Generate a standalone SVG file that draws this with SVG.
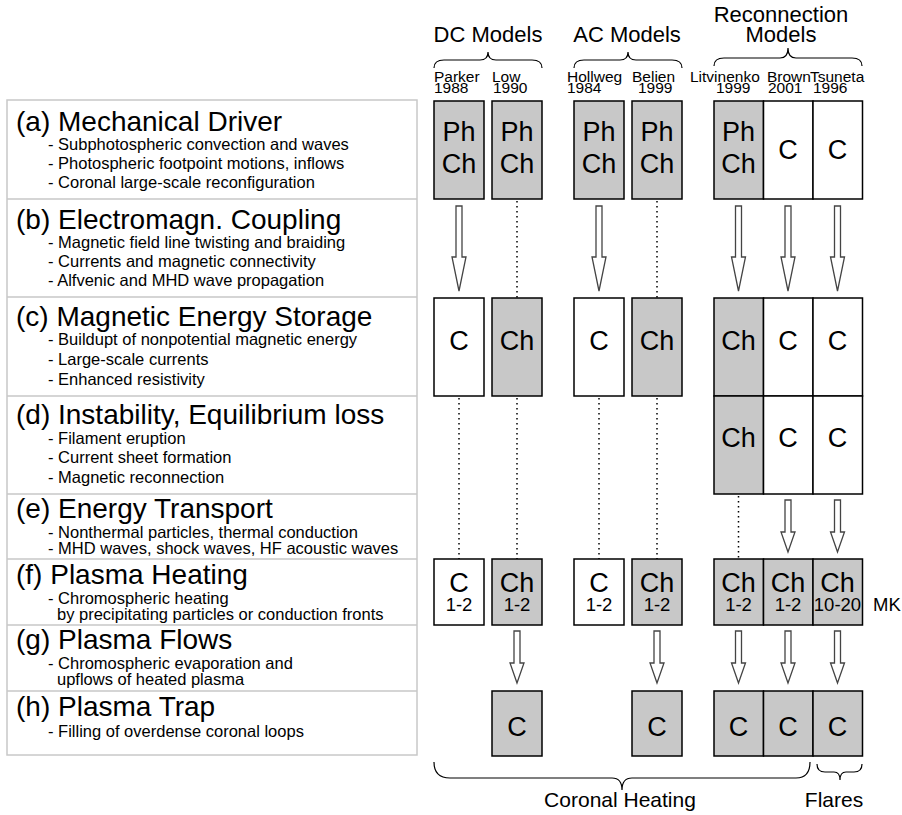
<svg xmlns="http://www.w3.org/2000/svg" width="902" height="815" viewBox="0 0 902 815">
<defs>
<style>
text{font-family:"Liberation Sans",Arial,Helvetica,sans-serif;fill:#000}
.ttl{font-size:28px}
.bul{font-size:16.5px}
.hdr{font-size:22px;text-anchor:middle}
.nm{font-size:15.5px}
.bx{font-size:27px;text-anchor:middle}
.sm{font-size:18.5px;text-anchor:middle}
.sep{stroke:#c8c8c8;stroke-width:1.5;fill:none}
.g{fill:#c8c8c8;stroke:#000;stroke-width:1.5}
.w{fill:#fff;stroke:#000;stroke-width:1.5}
.dot{stroke:#000;stroke-width:1.5;stroke-dasharray:1.5 3.5;fill:none}
.arr{fill:#fff;stroke:#444;stroke-width:1.3;stroke-linejoin:miter}
.brace{fill:none;stroke:#000;stroke-width:1.2}
</style>
<path id="arrL" class="arr" d="M-3,0 H3 V51 H7 L0,85 L-7,51 H-3 Z"/>
<path id="arrS" class="arr" d="M-3,0 H3 V32 H7 L0,52 L-7,32 H-3 Z"/>
</defs>
<rect width="902" height="815" fill="#fff"/>

<g id="stages">
<rect class="sep" x="7" y="100" width="410" height="655"/>
<path class="sep" d="M7,199H417M7,297H417M7,396H417M7,494H417M7,559H417M7,625H417M7,691H417"/>
<g id="stage-a">
<text class="ttl" x="16" y="131">(a) Mechanical Driver</text>
<text class="bul" x="48" y="150">- Subphotospheric convection and waves</text>
<text class="bul" x="48" y="169">- Photospheric footpoint motions, inflows</text>
<text class="bul" x="48" y="188">- Coronal large-scale reconfiguration</text>
</g>
<g id="stage-b">
<text class="ttl" x="16" y="229">(b) Electromagn. Coupling</text>
<text class="bul" x="48" y="248">- Magnetic field line twisting and braiding</text>
<text class="bul" x="48" y="267">- Currents and magnetic connectivity</text>
<text class="bul" x="48" y="286">- Alfvenic and MHD wave propagation</text>
</g>
<g id="stage-c">
<text class="ttl" x="16" y="326">(c) Magnetic Energy Storage</text>
<text class="bul" x="48" y="345">- Buildupt of nonpotential magnetic energy</text>
<text class="bul" x="48" y="365">- Large-scale currents</text>
<text class="bul" x="48" y="385">- Enhanced resistivity</text>
</g>
<g id="stage-d">
<text class="ttl" x="16" y="424">(d) Instability, Equilibrium loss</text>
<text class="bul" x="48" y="444">- Filament eruption</text>
<text class="bul" x="48" y="463">- Current sheet formation</text>
<text class="bul" x="48" y="483">- Magnetic reconnection</text>
</g>
<g id="stage-e">
<text class="ttl" x="16" y="518">(e) Energy Transport</text>
<text class="bul" x="48" y="538">- Nonthermal particles, thermal conduction</text>
<text class="bul" x="48" y="554">- MHD waves, shock waves, HF acoustic waves</text>
</g>
<g id="stage-f">
<text class="ttl" x="16" y="584">(f) Plasma Heating</text>
<text class="bul" x="48" y="604">- Chromospheric heating</text>
<text class="bul" x="57" y="620">by precipitating particles or conduction fronts</text>
</g>
<g id="stage-g">
<text class="ttl" x="16" y="649">(g) Plasma Flows</text>
<text class="bul" x="48" y="669">- Chromospheric evaporation and</text>
<text class="bul" x="57" y="685">upflows of heated plasma</text>
</g>
<g id="stage-h">
<text class="ttl" x="16" y="716">(h) Plasma Trap</text>
<text class="bul" x="48" y="737">- Filling of overdense coronal loops</text>
</g>
</g>

<g id="headers">
<text class="hdr" x="488" y="42">DC Models</text>
<text class="hdr" x="627" y="42">AC Models</text>
<text class="hdr" x="781" y="22">Reconnection</text>
<text class="hdr" x="781" y="42">Models</text>
<path class="brace" d="M434,68 Q434,60 444,60 H480 Q488,60 488,52 Q488,60 496,60 H532 Q542,60 542,68"/>
<path class="brace" d="M574,68 Q574,60 584,60 H620 Q628,60 628,52 Q628,60 636,60 H672 Q682,60 682,68"/>
<path class="brace" d="M714,66 Q714,58 724,58 H780 Q788,58 788,48 Q788,58 796,58 H852 Q862,58 862,66"/>
<text class="nm" x="434" y="82">Parker</text>
<text class="nm" x="434" y="93">1988</text>
<text class="nm" x="492" y="82">Low</text>
<text class="nm" x="493" y="93">1990</text>
<text class="nm" x="567" y="82">Hollweg</text>
<text class="nm" x="567" y="93">1984</text>
<text class="nm" x="632" y="82">Belien</text>
<text class="nm" x="638" y="93">1999</text>
<text class="nm" x="690" y="82">Litvinenko</text>
<text class="nm" x="716" y="93">1999</text>
<text class="nm" x="767" y="82">Brown</text>
<text class="nm" x="768" y="93">2001</text>
<text class="nm" x="810" y="82">Tsuneta</text>
<text class="nm" x="813" y="93">1996</text>
</g>

<g id="connectors">
<use href="#arrL" x="459" y="206"/>
<use href="#arrL" x="599" y="206"/>
<use href="#arrL" x="738.5" y="206"/>
<use href="#arrL" x="788" y="206"/>
<use href="#arrL" x="837.5" y="206"/>
<path class="dot" d="M517,201V298M657,201V298"/>
<path class="dot" d="M459,398V559M517,398V559M599,398V559M657,398V559M738.5,496V559"/>
<use href="#arrS" x="788" y="500"/>
<use href="#arrS" x="837.5" y="500"/>
<use href="#arrS" x="517" y="631"/>
<use href="#arrS" x="657" y="631"/>
<use href="#arrS" x="738.5" y="631"/>
<use href="#arrS" x="788" y="631"/>
<use href="#arrS" x="837.5" y="631"/>
</g>

<g id="row-a">
<g id="a-parker"><rect class="g" x="434" y="101" width="50" height="98"/><text class="bx" x="459" y="141">Ph</text><text class="bx" x="459" y="173">Ch</text></g>
<g id="a-low"><rect class="g" x="492" y="101" width="50" height="98"/><text class="bx" x="517" y="141">Ph</text><text class="bx" x="517" y="173">Ch</text></g>
<g id="a-hollweg"><rect class="g" x="574" y="101" width="50" height="98"/><text class="bx" x="599" y="141">Ph</text><text class="bx" x="599" y="173">Ch</text></g>
<g id="a-belien"><rect class="g" x="632" y="101" width="50" height="98"/><text class="bx" x="657" y="141">Ph</text><text class="bx" x="657" y="173">Ch</text></g>
<g id="a-litvinenko"><rect class="g" x="714" y="101" width="49.5" height="98"/><text class="bx" x="738.5" y="141">Ph</text><text class="bx" x="738.5" y="173">Ch</text></g>
<g id="a-brown"><rect class="w" x="763.5" y="101" width="49.5" height="98"/><text class="bx" x="788" y="159">C</text></g>
<g id="a-tsuneta"><rect class="w" x="813" y="101" width="49.5" height="98"/><text class="bx" x="837.5" y="159">C</text></g>
</g>

<g id="row-c">
<g id="c-parker"><rect class="w" x="434" y="298" width="50" height="98"/><text class="bx" x="459" y="350">C</text></g>
<g id="c-low"><rect class="g" x="492" y="298" width="50" height="98"/><text class="bx" x="517" y="350">Ch</text></g>
<g id="c-hollweg"><rect class="w" x="574" y="298" width="50" height="98"/><text class="bx" x="599" y="350">C</text></g>
<g id="c-belien"><rect class="g" x="632" y="298" width="50" height="98"/><text class="bx" x="657" y="350">Ch</text></g>
<g id="c-litvinenko"><rect class="g" x="714" y="298" width="49.5" height="98"/><text class="bx" x="738.5" y="350">Ch</text></g>
<g id="c-brown"><rect class="w" x="763.5" y="298" width="49.5" height="98"/><text class="bx" x="788" y="350">C</text></g>
<g id="c-tsuneta"><rect class="w" x="813" y="298" width="49.5" height="98"/><text class="bx" x="837.5" y="350">C</text></g>
</g>

<g id="row-d">
<g id="d-litvinenko"><rect class="g" x="714" y="396" width="49.5" height="98"/><text class="bx" x="738.5" y="447">Ch</text></g>
<g id="d-brown"><rect class="w" x="763.5" y="396" width="49.5" height="98"/><text class="bx" x="788" y="447">C</text></g>
<g id="d-tsuneta"><rect class="w" x="813" y="396" width="49.5" height="98"/><text class="bx" x="837.5" y="447">C</text></g>
</g>

<g id="row-f">
<g id="f-parker"><rect class="w" x="434" y="559" width="50" height="66"/><text class="bx" x="459" y="592">C</text><text class="sm" x="459" y="611">1-2</text></g>
<g id="f-low"><rect class="g" x="492" y="559" width="50" height="66"/><text class="bx" x="517" y="592">Ch</text><text class="sm" x="517" y="611">1-2</text></g>
<g id="f-hollweg"><rect class="w" x="574" y="559" width="50" height="66"/><text class="bx" x="599" y="592">C</text><text class="sm" x="599" y="611">1-2</text></g>
<g id="f-belien"><rect class="g" x="632" y="559" width="50" height="66"/><text class="bx" x="657" y="592">Ch</text><text class="sm" x="657" y="611">1-2</text></g>
<g id="f-litvinenko"><rect class="g" x="714" y="559" width="49.5" height="66"/><text class="bx" x="738.5" y="592">Ch</text><text class="sm" x="738.5" y="611">1-2</text></g>
<g id="f-brown"><rect class="g" x="763.5" y="559" width="49.5" height="66"/><text class="bx" x="788" y="592">Ch</text><text class="sm" x="788" y="611">1-2</text></g>
<g id="f-tsuneta"><rect class="g" x="813" y="559" width="49.5" height="66"/><text class="bx" x="837.5" y="592">Ch</text><text class="sm" x="837.5" y="611">10-20</text></g>
<text class="sm" x="873" y="611" style="text-anchor:start">MK</text>
</g>

<g id="row-h">
<g id="h-low"><rect class="g" x="492" y="691" width="50" height="65"/><text class="bx" x="517" y="736">C</text></g>
<g id="h-belien"><rect class="g" x="632" y="691" width="50" height="65"/><text class="bx" x="657" y="736">C</text></g>
<g id="h-litvinenko"><rect class="g" x="714" y="691" width="49.5" height="65"/><text class="bx" x="738.5" y="736">C</text></g>
<g id="h-brown"><rect class="g" x="763.5" y="691" width="49.5" height="65"/><text class="bx" x="788" y="736">C</text></g>
<g id="h-tsuneta"><rect class="g" x="813" y="691" width="49.5" height="65"/><text class="bx" x="837.5" y="736">C</text></g>
</g>

<g id="footer">
<path class="brace" d="M434,762 Q434,778 450,778 H612 Q622,778 622,790 Q622,778 632,778 H796 Q810,778 810,762"/>
<path class="brace" d="M817,764 Q817,772 825,772 H834 Q840,772 840,780 Q840,772 846,772 H854 Q862,772 862,764"/>
<text class="hdr" x="620" y="807" style="font-size:21px">Coronal Heating</text>
<text class="hdr" x="834" y="807" style="font-size:21px">Flares</text>
</g>
</svg>
